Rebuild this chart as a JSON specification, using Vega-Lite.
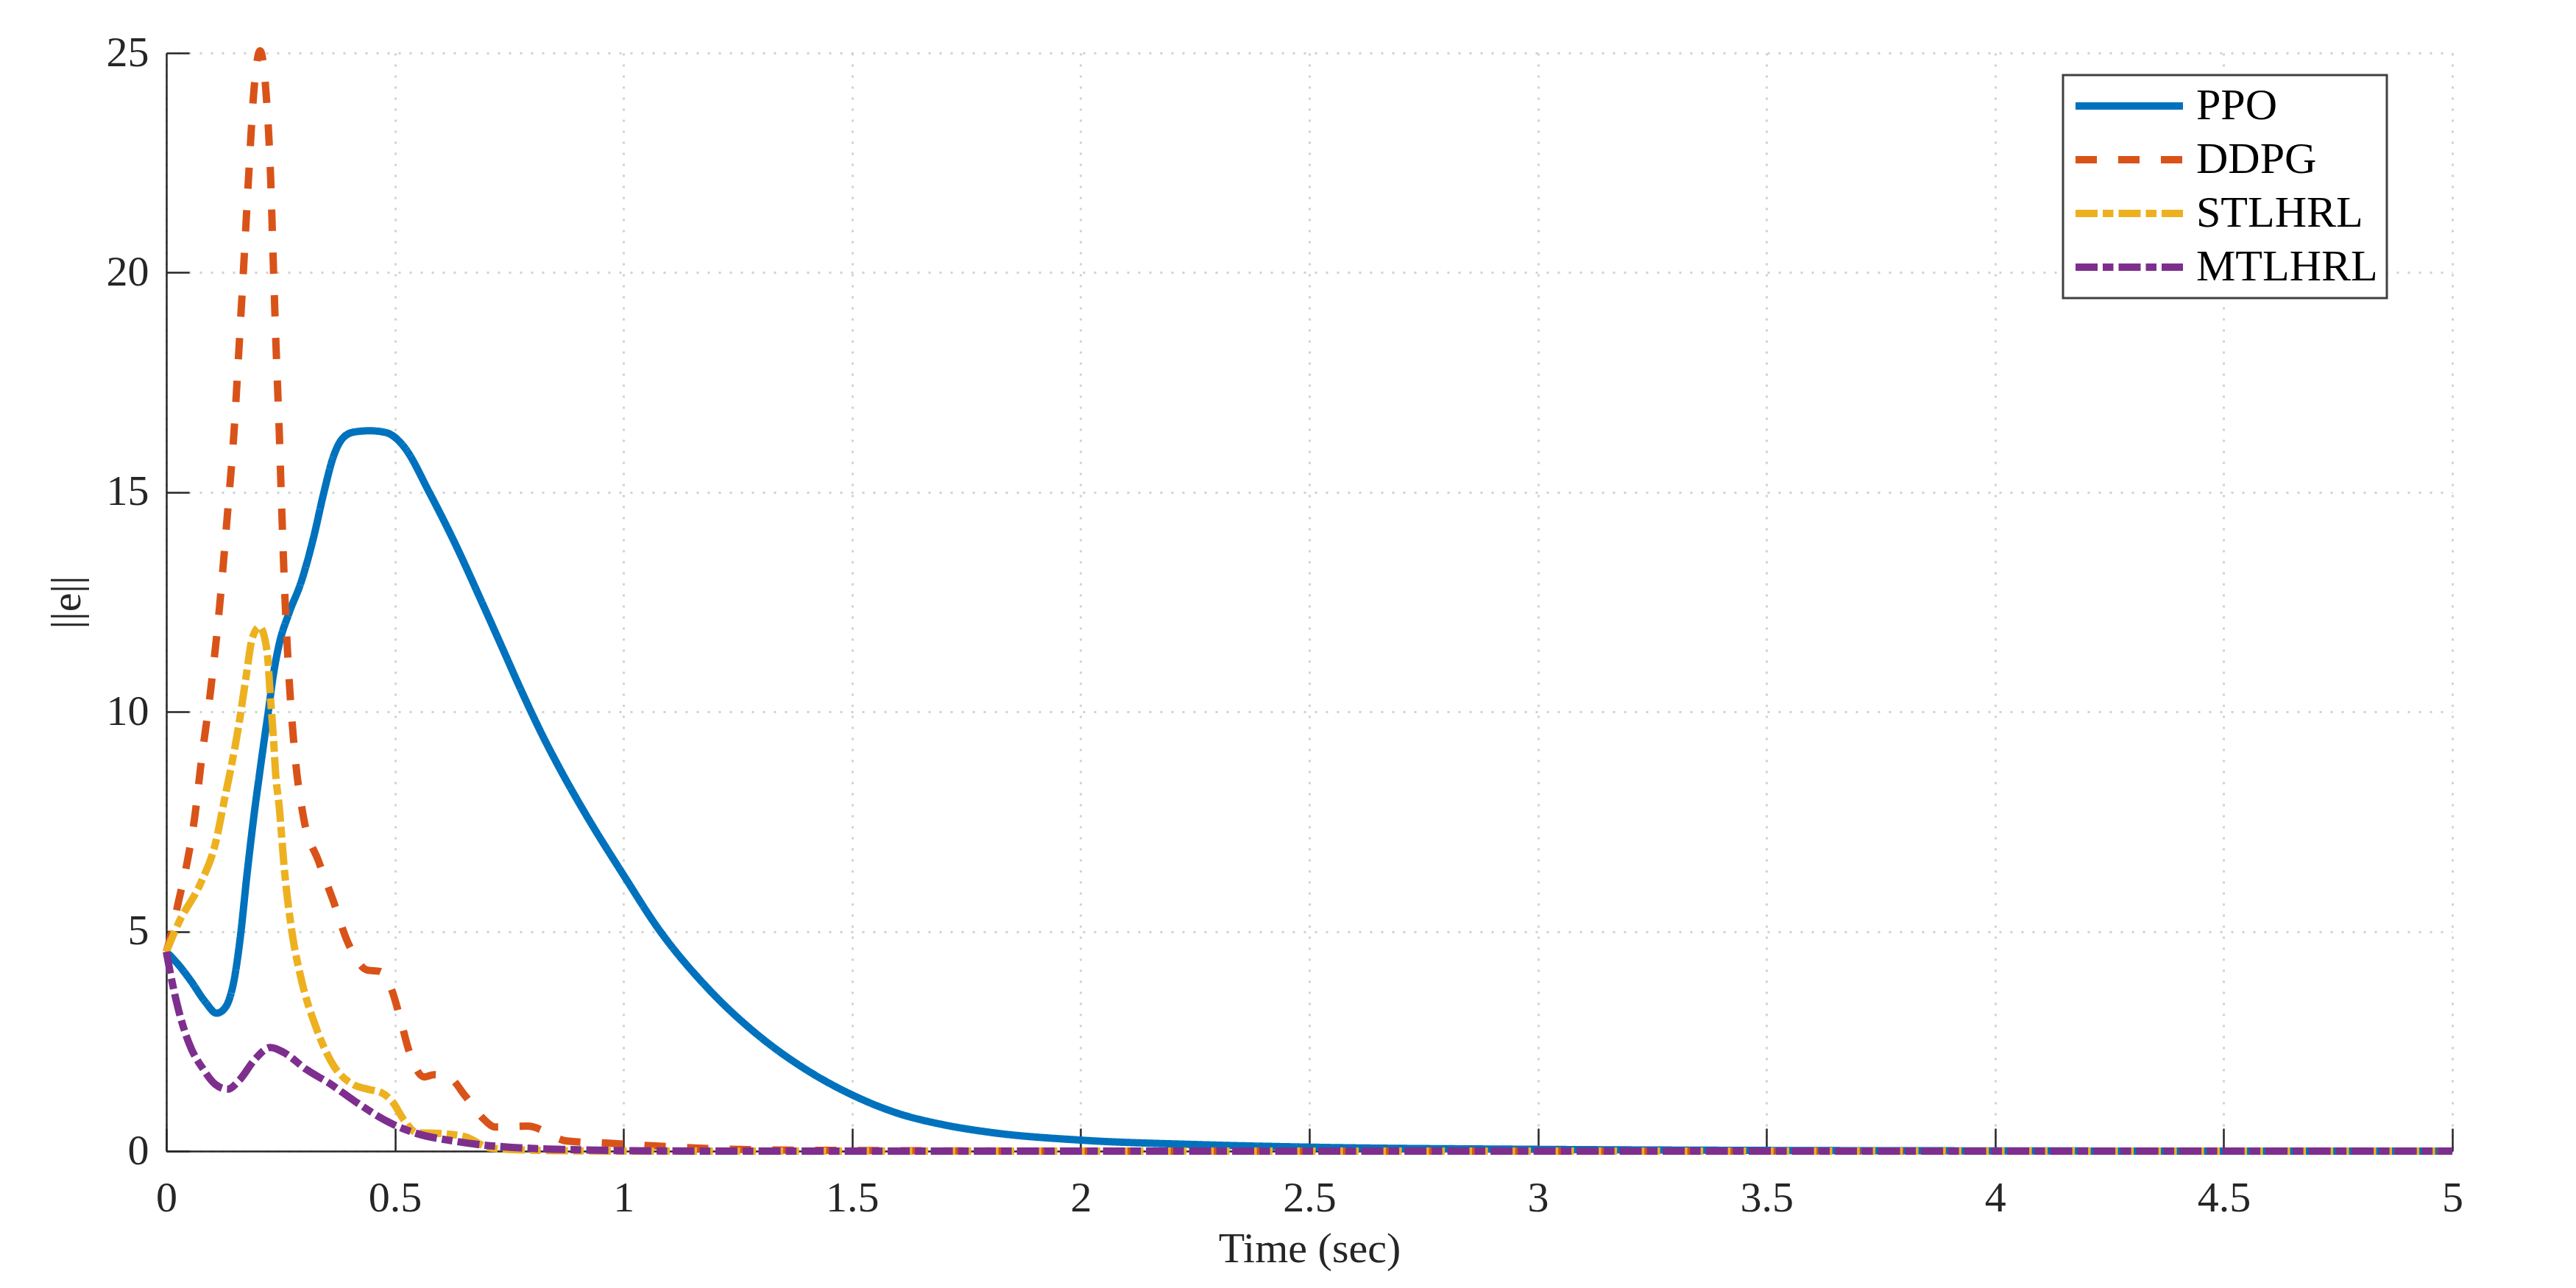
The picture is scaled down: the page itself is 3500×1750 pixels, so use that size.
{
  "$schema": "https://vega.github.io/schema/vega-lite/v6.json",
  "width": 3106,
  "height": 1492,
  "autosize": {"type": "none"},
  "padding": {"left": 226, "top": 72, "right": 168, "bottom": 186},
  "background": "white",
  "data": {"values": [
    {"m":"PPO","t":0,"v":4.54},{"m":"PPO","t":0.03,"v":4.2},{"m":"PPO","t":0.054,"v":3.87},{"m":"PPO","t":0.085,"v":3.4},{"m":"PPO","t":0.11,"v":3.14},{"m":"PPO","t":0.125,"v":3.22},{"m":"PPO","t":0.139,"v":3.5},{"m":"PPO","t":0.15,"v":4.0},{"m":"PPO","t":0.161,"v":4.8},{"m":"PPO","t":0.177,"v":6.35},{"m":"PPO","t":0.193,"v":7.75},{"m":"PPO","t":0.204,"v":8.6},{"m":"PPO","t":0.214,"v":9.35},{"m":"PPO","t":0.223,"v":10.0},{"m":"PPO","t":0.234,"v":10.84},{"m":"PPO","t":0.247,"v":11.55},{"m":"PPO","t":0.268,"v":12.24},{"m":"PPO","t":0.295,"v":12.96},{"m":"PPO","t":0.322,"v":13.97},{"m":"PPO","t":0.344,"v":14.97},{"m":"PPO","t":0.365,"v":15.8},{"m":"PPO","t":0.385,"v":16.22},{"m":"PPO","t":0.41,"v":16.37},{"m":"PPO","t":0.445,"v":16.4},{"m":"PPO","t":0.48,"v":16.36},{"m":"PPO","t":0.5,"v":16.25},{"m":"PPO","t":0.521,"v":16.02},{"m":"PPO","t":0.575,"v":15.0},{"m":"PPO","t":0.633,"v":13.8},{"m":"PPO","t":0.69,"v":12.5},{"m":"PPO","t":0.733,"v":11.5},{"m":"PPO","t":0.777,"v":10.47},{"m":"PPO","t":0.82,"v":9.52},{"m":"PPO","t":0.863,"v":8.66},{"m":"PPO","t":0.92,"v":7.62},{"m":"PPO","t":0.999,"v":6.3},{"m":"PPO","t":1.077,"v":5.05},{"m":"PPO","t":1.185,"v":3.7},{"m":"PPO","t":1.293,"v":2.65},{"m":"PPO","t":1.4,"v":1.85},{"m":"PPO","t":1.5,"v":1.28},{"m":"PPO","t":1.6,"v":0.86},{"m":"PPO","t":1.7,"v":0.6},{"m":"PPO","t":1.8,"v":0.43},{"m":"PPO","t":2.0,"v":0.25},{"m":"PPO","t":2.25,"v":0.15},{"m":"PPO","t":2.5,"v":0.09},{"m":"PPO","t":3.0,"v":0.04},{"m":"PPO","t":3.5,"v":0.015},{"m":"PPO","t":4.0,"v":0.005},{"m":"PPO","t":4.5,"v":0},{"m":"PPO","t":5.0,"v":0},
    {"m":"DDPG","t":0,"v":4.54},{"m":"DDPG","t":0.006,"v":4.75},{"m":"DDPG","t":0.027,"v":5.7},{"m":"DDPG","t":0.046,"v":6.6},{"m":"DDPG","t":0.062,"v":7.6},{"m":"DDPG","t":0.076,"v":8.83},{"m":"DDPG","t":0.097,"v":10.5},{"m":"DDPG","t":0.117,"v":12.46},{"m":"DDPG","t":0.133,"v":14.42},{"m":"DDPG","t":0.148,"v":16.37},{"m":"DDPG","t":0.159,"v":18.3},{"m":"DDPG","t":0.17,"v":20.3},{"m":"DDPG","t":0.18,"v":22.2},{"m":"DDPG","t":0.192,"v":24.2},{"m":"DDPG","t":0.205,"v":25.05},{"m":"DDPG","t":0.218,"v":24.1},{"m":"DDPG","t":0.228,"v":22.2},{"m":"DDPG","t":0.234,"v":20.2},{"m":"DDPG","t":0.24,"v":18.3},{"m":"DDPG","t":0.247,"v":16.37},{"m":"DDPG","t":0.253,"v":14.42},{"m":"DDPG","t":0.26,"v":12.46},{"m":"DDPG","t":0.268,"v":10.84},{"m":"DDPG","t":0.282,"v":8.94},{"m":"DDPG","t":0.3,"v":7.6},{"m":"DDPG","t":0.333,"v":6.6},{"m":"DDPG","t":0.365,"v":5.7},{"m":"DDPG","t":0.397,"v":4.75},{"m":"DDPG","t":0.44,"v":4.12},{"m":"DDPG","t":0.467,"v":4.09},{"m":"DDPG","t":0.494,"v":3.64},{"m":"DDPG","t":0.51,"v":3.08},{"m":"DDPG","t":0.532,"v":2.24},{"m":"DDPG","t":0.564,"v":1.69},{"m":"DDPG","t":0.585,"v":1.74},{"m":"DDPG","t":0.617,"v":1.69},{"m":"DDPG","t":0.655,"v":1.24},{"m":"DDPG","t":0.693,"v":0.74},{"m":"DDPG","t":0.719,"v":0.55},{"m":"DDPG","t":0.79,"v":0.57},{"m":"DDPG","t":0.876,"v":0.23},{"m":"DDPG","t":0.969,"v":0.18},{"m":"DDPG","t":1.063,"v":0.12},{"m":"DDPG","t":1.156,"v":0.07},{"m":"DDPG","t":1.3,"v":0.03},{"m":"DDPG","t":1.6,"v":0.01},{"m":"DDPG","t":2.0,"v":0},{"m":"DDPG","t":5.0,"v":0},
    {"m":"STLHRL","t":0,"v":4.54},{"m":"STLHRL","t":0.027,"v":5.2},{"m":"STLHRL","t":0.075,"v":6.1},{"m":"STLHRL","t":0.107,"v":6.99},{"m":"STLHRL","t":0.129,"v":8.1},{"m":"STLHRL","t":0.139,"v":8.6},{"m":"STLHRL","t":0.159,"v":9.73},{"m":"STLHRL","t":0.175,"v":10.84},{"m":"STLHRL","t":0.188,"v":11.68},{"m":"STLHRL","t":0.204,"v":11.93},{"m":"STLHRL","t":0.22,"v":11.4},{"m":"STLHRL","t":0.228,"v":10.28},{"m":"STLHRL","t":0.234,"v":9.45},{"m":"STLHRL","t":0.239,"v":8.6},{"m":"STLHRL","t":0.247,"v":7.83},{"m":"STLHRL","t":0.258,"v":6.43},{"m":"STLHRL","t":0.274,"v":5.04},{"m":"STLHRL","t":0.295,"v":3.92},{"m":"STLHRL","t":0.328,"v":2.8},{"m":"STLHRL","t":0.365,"v":1.96},{"m":"STLHRL","t":0.408,"v":1.52},{"m":"STLHRL","t":0.44,"v":1.41},{"m":"STLHRL","t":0.472,"v":1.32},{"m":"STLHRL","t":0.494,"v":1.13},{"m":"STLHRL","t":0.521,"v":0.69},{"m":"STLHRL","t":0.548,"v":0.42},{"m":"STLHRL","t":0.601,"v":0.4},{"m":"STLHRL","t":0.655,"v":0.32},{"m":"STLHRL","t":0.709,"v":0.07},{"m":"STLHRL","t":0.8,"v":0.02},{"m":"STLHRL","t":1.0,"v":0},{"m":"STLHRL","t":5.0,"v":0},
    {"m":"MTLHRL","t":0,"v":4.54},{"m":"MTLHRL","t":0.008,"v":4.09},{"m":"MTLHRL","t":0.027,"v":3.2},{"m":"MTLHRL","t":0.049,"v":2.47},{"m":"MTLHRL","t":0.081,"v":1.86},{"m":"MTLHRL","t":0.107,"v":1.52},{"m":"MTLHRL","t":0.134,"v":1.41},{"m":"MTLHRL","t":0.161,"v":1.63},{"m":"MTLHRL","t":0.193,"v":2.08},{"m":"MTLHRL","t":0.228,"v":2.36},{"m":"MTLHRL","t":0.258,"v":2.24},{"m":"MTLHRL","t":0.306,"v":1.86},{"m":"MTLHRL","t":0.36,"v":1.52},{"m":"MTLHRL","t":0.413,"v":1.13},{"m":"MTLHRL","t":0.494,"v":0.62},{"m":"MTLHRL","t":0.548,"v":0.4},{"m":"MTLHRL","t":0.628,"v":0.23},{"m":"MTLHRL","t":0.682,"v":0.15},{"m":"MTLHRL","t":0.735,"v":0.1},{"m":"MTLHRL","t":0.825,"v":0.05},{"m":"MTLHRL","t":0.9,"v":0.03},{"m":"MTLHRL","t":1.0,"v":0.01},{"m":"MTLHRL","t":1.2,"v":0},{"m":"MTLHRL","t":5.0,"v":0}
  ]},
  "encoding": {
    "x": {"field": "t", "type": "quantitative",
      "scale": {"domain": [0, 5], "nice": false, "zero": false},
      "axis": {"title": "Time (sec)", "values": [0,0.5,1,1.5,2,2.5,3,3.5,4,4.5,5], "format": "~g", "labelPadding": 66, "titlePadding": 11}},
    "y": {"field": "v", "type": "quantitative",
      "scale": {"domain": [0, 25], "nice": false},
      "axis": {"title": "||e||", "values": [0,5,10,15,20,25], "labelPadding": 55, "titlePadding": 24}},
    "color": {"field": "m", "type": "nominal",
      "scale": {"domain": ["PPO","DDPG","STLHRL","MTLHRL"], "range": ["#0072BD","#D95319","#EDB120","#7E2F8E"]},
      "legend": {"title": null}},
    "strokeDash": {"field": "m", "type": "nominal",
      "scale": {"domain": ["PPO","DDPG","STLHRL","MTLHRL"], "range": [[1,0],[29,29],[30,7,14.5,7],[30,7,14.5,7]]},
      "legend": {"title": null}},
    "order": {"field": "t", "type": "quantitative"}
  },
  "layer": [
    {"transform": [{"filter": "datum.m === 'PPO'"}], "mark": {"type": "line", "strokeWidth": 10, "interpolate": "monotone", "clip": false}},
    {"transform": [{"filter": "datum.m === 'DDPG'"}], "mark": {"type": "line", "strokeWidth": 10, "interpolate": "monotone", "clip": false}},
    {"transform": [{"filter": "datum.m === 'STLHRL'"}], "mark": {"type": "line", "strokeWidth": 10, "interpolate": "monotone", "clip": false}},
    {"transform": [{"filter": "datum.m === 'MTLHRL'"}], "mark": {"type": "line", "strokeWidth": 10, "interpolate": "monotone", "clip": false}}
  ],
  "config": {
    "font": "Liberation Serif",
    "view": {"stroke": null},
    "axis": {
      "grid": true, "gridDash": [3, 12], "gridColor": "#d2d2d2", "gridWidth": 3,
      "domainColor": "#262626", "domainWidth": 2.5,
      "tickColor": "#262626", "tickWidth": 2.5, "tickSize": -31,
      "labelFontSize": 58, "labelColor": "#262626", "labelFlush": false, "labelOverlap": false,
      "titleFontSize": 58, "titleFontWeight": "normal", "titleColor": "#262626"
    },
    "legend": {
      "orient": "none", "legendX": 2577, "legendY": 30,
      "strokeColor": "#404040", "fillColor": "white", "strokeWidth": 3,
      "padding": 12, "labelFontSize": 60, "labelColor": "black", "labelOffset": 13, "labelLimit": 600,
      "symbolType": "stroke", "symbolSize": 21316, "symbolStrokeWidth": 10,
      "rowPadding": 13, "clipHeight": 60
    }
  }
}
